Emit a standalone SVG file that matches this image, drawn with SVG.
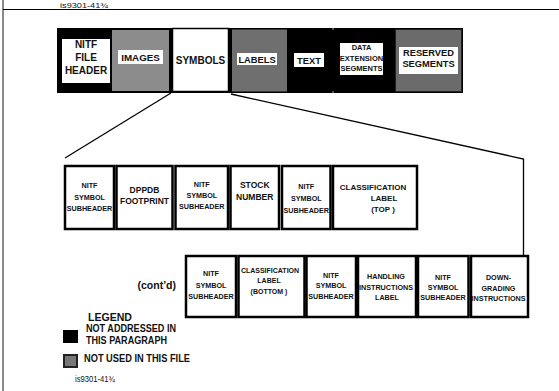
<svg xmlns="http://www.w3.org/2000/svg" width="559" height="391" viewBox="0 0 559 391">
  <style>
    text { font-family: "Liberation Sans", Arial, sans-serif; font-weight: bold; fill: #111; }
    .c { text-anchor: middle; }
    .box { fill: #fff; stroke: #000; stroke-width: 2.5; }
    .lbl { fill: #fff; }
    .s7 { font-size: 7.2px; }
    .s8 { font-size: 8.5px; }
    .conn { fill: none; stroke: #000; stroke-width: 1.3; }
  </style>

  <!-- page frame -->
  <rect x="0" y="0" width="559" height="391" fill="#fff"/>
  <line x1="3" y1="0" x2="3" y2="391" stroke="#8a8a8a" stroke-width="2"/>
  <line x1="3" y1="9.5" x2="559" y2="9.5" stroke="#000" stroke-width="1.2"/>
  <text x="60" y="7.5" style="font-size:7.5px;font-weight:normal" textLength="48" lengthAdjust="spacingAndGlyphs">is9301-41¾</text>

  <!-- file structure bar -->
  <g id="file-bar">
    <rect x="57" y="28" width="406" height="65" fill="#000"/>
    <g id="nitf-file-header">
      <rect x="62" y="39" width="48" height="44" class="lbl"/>
      <text class="c" x="86" y="48" style="font-size:10px">NITF</text>
      <text class="c" x="86" y="61" style="font-size:10px">FILE</text>
      <text class="c" x="86" y="74" style="font-size:10px">HEADER</text>
    </g>
    <g id="images">
      <rect x="112" y="30" width="57" height="61" fill="#8c8c8c"/>
      <rect x="118" y="50" width="45" height="14" class="lbl"/>
      <text class="c" x="140.5" y="61" style="font-size:9.8px">IMAGES</text>
    </g>
    <g id="symbols">
      <rect x="172.5" y="28.5" width="56" height="63" fill="#fff" stroke="#000" stroke-width="1.5"/>
      <text class="c" x="200.5" y="63.5" style="font-size:10px">SYMBOLS</text>
    </g>
    <g id="labels">
      <rect x="232" y="29.5" width="55" height="62" fill="#6f6f6f"/>
      <rect x="237" y="53" width="40" height="12" class="lbl"/>
      <text class="c" x="257" y="62.5" style="font-size:9.3px">LABELS</text>
    </g>
    <g id="text">
      <rect x="294" y="53" width="30" height="14" class="lbl"/>
      <text class="c" x="309" y="63.5" style="font-size:9.3px">TEXT</text>
    </g>
    <line x1="333" y1="28" x2="333" y2="30" stroke="#ccc" stroke-width="0.8"/>
    <line x1="333" y1="91" x2="333" y2="93" stroke="#ccc" stroke-width="0.8"/>
    <g id="data-extension-segments">
      <rect x="340" y="43" width="43" height="32" class="lbl"/>
      <text class="c" x="361.5" y="50" style="font-size:7.5px">DATA</text>
      <text class="c" x="361.5" y="60.5" style="font-size:7.5px">EXTENSION</text>
      <text class="c" x="361.5" y="71" style="font-size:7.5px">SEGMENTS</text>
    </g>
    <g id="reserved-segments">
      <rect x="395.5" y="29.5" width="66" height="62" fill="#6b6b6b" stroke="#222" stroke-width="1"/>
      <rect x="399" y="47" width="59" height="27" class="lbl"/>
      <text class="c" x="428.5" y="56" style="font-size:9.3px">RESERVED</text>
      <text class="c" x="428.5" y="67" style="font-size:9.3px">SEGMENTS</text>
    </g>
  </g>

  <!-- expansion lines from SYMBOLS -->
  <g id="connectors">
    <polyline class="conn" points="171,93 65,158"/>
    <polyline class="conn" points="231,94 523.5,159 523.5,255"/>
  </g>

  <!-- symbol segment contents, first row -->
  <g id="m1">
    <rect class="box" x="65" y="166" width="49" height="63"/>
    <text class="c s7" x="89.5" y="188">NITF</text>
    <text class="c s7" x="89.5" y="199.5">SYMBOL</text>
    <text class="c s7" x="89.5" y="211">SUBHEADER</text>
  </g>
  <g id="m2">
    <rect class="box" x="116.5" y="166" width="56" height="63"/>
    <text class="c s8" x="144.5" y="192.5">DPPDB</text>
    <text class="c s8" x="144.5" y="203.5">FOOTPRINT</text>
  </g>
  <g id="m3">
    <rect class="box" x="175.5" y="166" width="52.5" height="63"/>
    <text class="c s7" x="201.75" y="187">NITF</text>
    <text class="c s7" x="201.75" y="198">SYMBOL</text>
    <text class="c s7" x="201.75" y="208.5">SUBHEADER</text>
  </g>
  <g id="m4">
    <rect class="box" x="230.5" y="166" width="48.5" height="63"/>
    <text class="c s8" x="254.75" y="188">STOCK</text>
    <text class="c s8" x="254.75" y="200">NUMBER</text>
  </g>
  <g id="m5">
    <rect class="box" x="282" y="166" width="48.5" height="63"/>
    <text class="c s7" x="306.25" y="189">NITF</text>
    <text class="c s7" x="306.25" y="201">SYMBOL</text>
    <text class="c s7" x="306.25" y="212.5">SUBHEADER</text>
  </g>
  <g id="m6">
    <rect class="box" x="333" y="166" width="84" height="63"/>
    <text class="c" x="373" y="190" style="font-size:8px">CLASSIFICATION</text>
    <text class="c" x="384" y="201" style="font-size:8px">LABEL</text>
    <text class="c" x="383" y="211.5" style="font-size:8px">(TOP )</text>
  </g>

  <!-- symbol segment contents, continued row -->
  <text x="176" y="289" text-anchor="end" style="font-size:10.5px">(cont’d)</text>
  <g id="b1">
    <rect class="box" x="186" y="256" width="50" height="61"/>
    <text class="c s7" x="211" y="275.5">NITF</text>
    <text class="c s7" x="211" y="287.5">SYMBOL</text>
    <text class="c s7" x="211" y="298.5">SUBHEADER</text>
  </g>
  <g id="b2">
    <rect class="box" x="238.5" y="256" width="66" height="61"/>
    <text class="c" x="270" y="272.5" style="font-size:7px">CLASSIFICATION</text>
    <text class="c" x="269" y="282.5" style="font-size:7px">LABEL</text>
    <text class="c" x="269" y="293.5" style="font-size:7px">(BOTTOM )</text>
  </g>
  <g id="b3">
    <rect class="box" x="306.5" y="256" width="49.5" height="61"/>
    <text class="c s7" x="331" y="277.5">NITF</text>
    <text class="c s7" x="331" y="288">SYMBOL</text>
    <text class="c s7" x="331" y="298.5">SUBHEADER</text>
  </g>
  <g id="b4">
    <rect class="box" x="358" y="256" width="58" height="61"/>
    <text class="c s7" x="386" y="278.5">HANDLING</text>
    <text class="c s7" x="386" y="289.5">INSTRUCTIONS</text>
    <text class="c s7" x="387" y="299.5">LABEL</text>
  </g>
  <g id="b5">
    <rect class="box" x="418" y="256" width="50.5" height="61"/>
    <text class="c s7" x="443" y="279.5">NITF</text>
    <text class="c s7" x="443" y="289.5">SYMBOL</text>
    <text class="c s7" x="443" y="299.5">SUBHEADER</text>
  </g>
  <g id="b6">
    <rect class="box" x="471" y="256" width="57" height="61"/>
    <text class="c s7" x="498.5" y="279.5">DOWN-</text>
    <text class="c s7" x="498.5" y="290.5">GRADING</text>
    <text class="c s7" x="498.5" y="300.5">INSTRUCTIONS</text>
  </g>

  <!-- legend -->
  <g id="legend">
    <text x="88" y="321" style="font-size:11.5px" textLength="44" lengthAdjust="spacingAndGlyphs">LEGEND</text>
    <rect x="63" y="330" width="15" height="13" fill="#000"/>
    <text x="86" y="332" style="font-size:10px" textLength="90" lengthAdjust="spacingAndGlyphs">NOT ADDRESSED IN</text>
    <text x="86" y="343.5" style="font-size:10px" textLength="81" lengthAdjust="spacingAndGlyphs">THIS PARAGRAPH</text>
    <rect x="64" y="355" width="13" height="12" fill="#777" stroke="#222" stroke-width="2"/>
    <text x="84" y="361.5" style="font-size:10px" textLength="106" lengthAdjust="spacingAndGlyphs">NOT USED IN THIS FILE</text>
    <text x="75" y="381.5" style="font-size:9.5px;font-weight:normal" textLength="40" lengthAdjust="spacingAndGlyphs">is9301-41¾</text>
  </g>
</svg>
